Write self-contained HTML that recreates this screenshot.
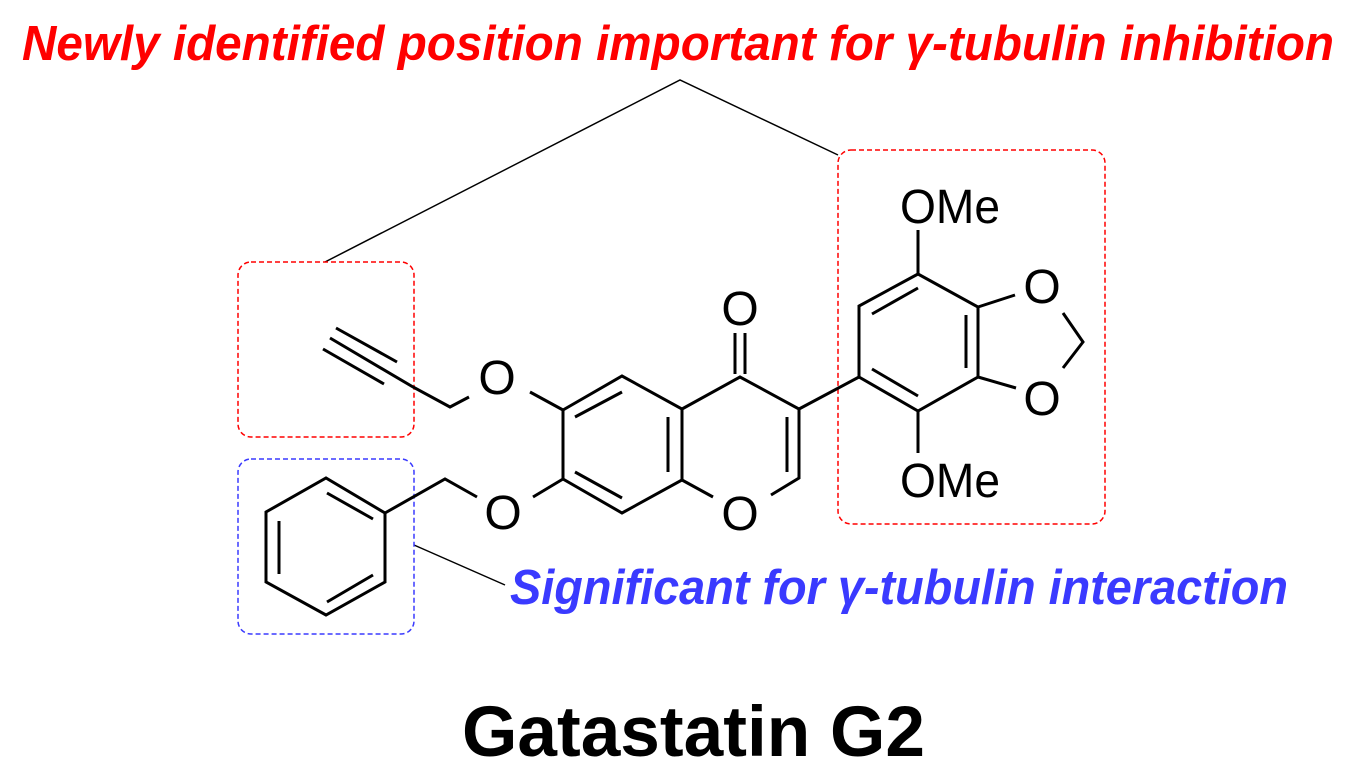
<!DOCTYPE html>
<html><head><meta charset="utf-8"><style>html,body{margin:0;padding:0;background:#fff;}svg{display:block;}</style></head>
<body>
<svg width="1360" height="783" viewBox="0 0 1360 783" xmlns="http://www.w3.org/2000/svg">
<text x="22" y="60" font-family="Liberation Sans, sans-serif" font-weight="bold" font-style="italic" font-size="49" fill="#ff0000" textLength="1312" lengthAdjust="spacingAndGlyphs">Newly identified position important for γ-tubulin inhibition</text>
<text x="510" y="604" font-family="Liberation Sans, sans-serif" font-weight="bold" font-style="italic" font-size="49" fill="#3a3aff" textLength="778" lengthAdjust="spacingAndGlyphs">Significant for γ-tubulin interaction</text>
<text x="462" y="756" font-family="Liberation Sans, sans-serif" font-weight="bold" font-size="71" fill="#000" textLength="463" lengthAdjust="spacingAndGlyphs">Gatastatin G2</text>

<g fill="none" stroke="#000" stroke-width="1.5">
<polyline points="325,262 680,80 838,155"/>
<line x1="414" y1="545" x2="505" y2="585"/>
</g>
<g fill="none" stroke-width="1.5" stroke-dasharray="5,3">
<rect x="238" y="262" width="176" height="175" rx="13" stroke="#ff0000"/>
<rect x="838" y="150" width="267" height="374" rx="13" stroke="#ff0000"/>
<rect x="238" y="459" width="176" height="175" rx="13" stroke="#3a3aff"/>
</g>

<g fill="none" stroke="#000" stroke-width="3" stroke-linecap="butt" stroke-linejoin="miter">
<line x1="336" y1="328" x2="397" y2="362"/>
<line x1="323" y1="349" x2="384" y2="384"/>
<polyline points="330,338 413,387 450,407 469,397"/>
<line x1="530" y1="392" x2="563" y2="410"/>
<polyline points="563,410 563,479 622,513 682,480 682,409 622,376 563,410"/>
<line x1="575" y1="417" x2="622" y2="392"/>
<line x1="575" y1="472" x2="622" y2="498"/>
<line x1="668" y1="417" x2="668" y2="472"/>
<line x1="533" y1="497" x2="563" y2="479"/>
<polyline points="477,497 445,479 385,513"/>
<polygon points="385,513 326,478 266,512 266,582 326,615 385,582"/>
<line x1="327" y1="493" x2="373" y2="519"/>
<line x1="279" y1="521" x2="279" y2="574"/>
<line x1="327" y1="602" x2="373" y2="575"/>
<polyline points="682,409 740,377 799,409 799,478 771,495"/>
<line x1="682" y1="480" x2="713" y2="497"/>
<line x1="735" y1="333" x2="735" y2="374"/>
<line x1="745" y1="333" x2="745" y2="374"/>
<line x1="787" y1="417" x2="787" y2="472"/>
<line x1="799" y1="409" x2="859" y2="377"/>
<polygon points="859,377 859,306 918,274 978,307 978,377 918,411"/>
<line x1="872" y1="314" x2="918" y2="288"/>
<line x1="966" y1="315" x2="966" y2="368"/>
<line x1="872" y1="369" x2="918" y2="396"/>
<line x1="918" y1="274" x2="918" y2="230"/>
<line x1="918" y1="411" x2="918" y2="453"/>
<line x1="978" y1="307" x2="1015" y2="295"/>
<line x1="978" y1="377" x2="1016" y2="388"/>
<polyline points="1063,313 1083,342 1063,368"/>
</g>

<g font-family="Liberation Sans, sans-serif" font-size="48" fill="#000" text-anchor="middle">
<text x="497" y="394">O</text>
<text x="503" y="529">O</text>
<text x="740" y="325">O</text>
<text x="740" y="530">O</text>
<text x="1042" y="303">O</text>
<text x="1042" y="415">O</text>
<text x="950" y="223" textLength="100" lengthAdjust="spacingAndGlyphs">OMe</text>
<text x="950" y="497" textLength="100" lengthAdjust="spacingAndGlyphs">OMe</text>
</g>
</svg>
</body></html>
